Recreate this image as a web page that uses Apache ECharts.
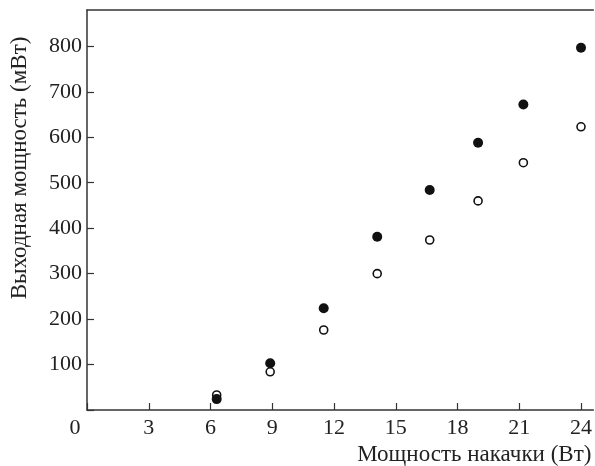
<!DOCTYPE html>
<html>
<head>
    <meta charset="UTF-8">
    <title>Выходная мощность от мощности накачки</title>
    <script src="https://cdn.jsdelivr.net/npm/echarts@6/dist/echarts.min.js"></script>
    <style>
        html, body { margin: 0; padding: 0; background: #fff; }
    </style>
</head>
<body>
    <div id="main" style="width: 595px;height:466px;"></div>
    <script type="text/javascript">
        // накачка (Вт)
        var pumpPower = [6.3, 8.9, 11.5, 14.1, 16.65, 19.0, 21.2, 24.0];
        // выходная мощность (мВт), закрашенные кружки
        var outFilled = [24, 103, 224, 381, 484, 588, 672, 797];
        // выходная мощность (мВт), пустые кружки
        var outOpen = [33, 84, 176, 300, 374, 460, 544, 623];

        var xTicks = [0, 3, 6, 9, 12, 15, 18, 21, 24];
        var yTicks = [100, 200, 300, 400, 500, 600, 700, 800];

        var font = 'Liberation Serif';
        var axisColor = '#333';

        function pairs(xs, ys) {
            return xs.map(function (x, i) { return [x, ys[i]]; });
        }

        var myChart = echarts.init(document.getElementById('main'));

        var option = {
            animation: false,
            grid: { left: 87, top: 10, right: 1, bottom: 56 },
            xAxis: [{
                type: 'value',
                min: 0,
                max: 24.6,
                interval: 3,
                name: 'Мощность накачки (Вт)',
                nameLocation: 'end',
                nameGap: -2,
                nameTextStyle: {
                    fontFamily: font, fontSize: 23, color: '#222',
                    align: 'right', verticalAlign: 'top', padding: [33, 0, 0, 0]
                },
                axisLine: { lineStyle: { color: axisColor, width: 1.5 } },
                axisTick: { inside: true, length: 7, lineStyle: { color: axisColor, width: 1.2 } },
                splitLine: { show: false },
                axisLabel: {
                    fontFamily: font, fontSize: 22, color: '#222', margin: 7,
                    showMaxLabel: false,
                    formatter: function (v) {
                        if (v === 0) return '{z|0}';
                        return xTicks.indexOf(v) >= 0 ? String(v) : '';
                    },
                    rich: { z: { fontFamily: font, fontSize: 22, color: '#222', padding: [0, 24, 0, 0] } }
                }
            }, {
                type: 'value',
                position: 'top',
                min: 0,
                max: 24.6,
                axisLine: { show: true, lineStyle: { color: axisColor, width: 1.5 } },
                axisTick: { show: false },
                axisLabel: { show: false },
                splitLine: { show: false }
            }],
            yAxis: {
                type: 'value',
                min: 0,
                max: 880,
                interval: 100,
                name: 'Выходная мощность (мВт)',
                nameLocation: 'middle',
                nameGap: 56,
                nameTextStyle: {
                    fontFamily: font, fontSize: 23, color: '#222',
                    padding: [0, 0, 0, 84]
                },
                axisLine: { show: true, lineStyle: { color: axisColor, width: 1.5 } },
                axisTick: { show: true, inside: true, length: 7, lineStyle: { color: axisColor, width: 1.2 } },
                splitLine: { show: false },
                axisLabel: {
                    fontFamily: font, fontSize: 22, color: '#222', margin: 5,
                    showMaxLabel: false,
                    formatter: function (v) {
                        return yTicks.indexOf(v) >= 0 ? String(v) : '';
                    }
                }
            },
            series: [{
                name: 'filled',
                type: 'scatter',
                data: pairs(pumpPower, outFilled),
                symbol: 'circle',
                symbolSize: 10,
                itemStyle: { color: '#111', opacity: 1 },
                z: 3
            }, {
                name: 'open',
                type: 'scatter',
                data: pairs(pumpPower, outOpen),
                symbol: 'circle',
                symbolSize: 8,
                itemStyle: { color: '#fff', borderColor: '#111', borderWidth: 1.6, opacity: 1 },
                z: 2
            }]
        };

        myChart.setOption(option);
    </script>
</body>
</html>
